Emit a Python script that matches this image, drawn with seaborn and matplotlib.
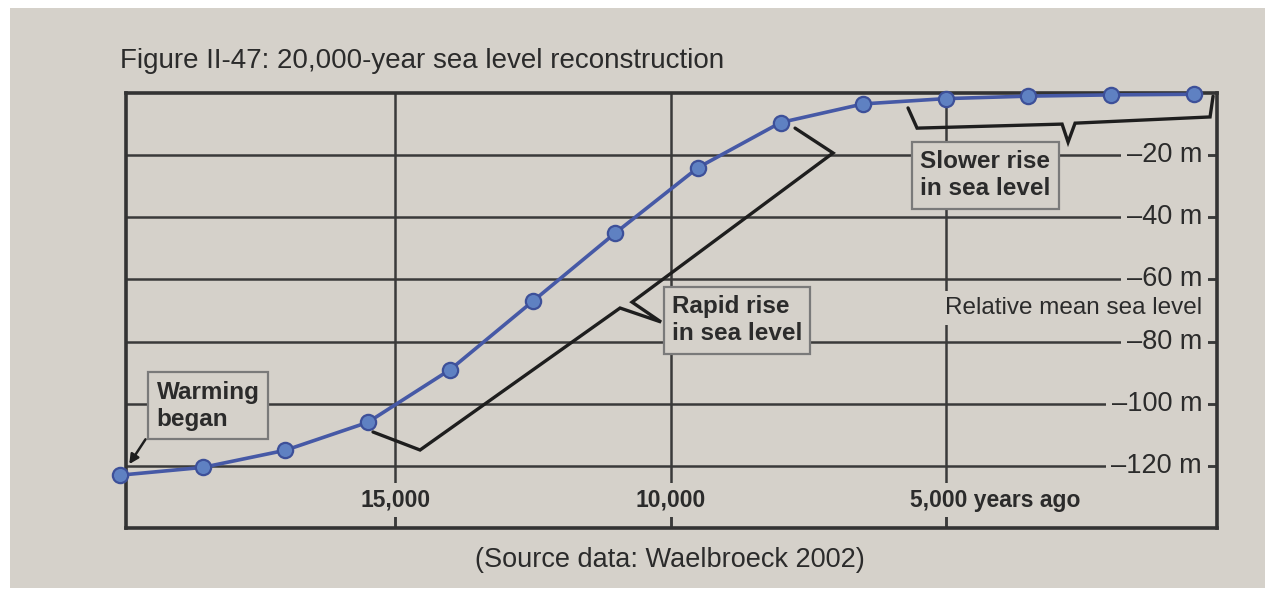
import pandas as pd
import seaborn as sns
import matplotlib.pyplot as plt
from matplotlib.patches import Rectangle

# Data (years before present, metres)
years_ago = [20000, 18500, 17000, 15500, 14000, 12500, 11000,
             9500, 8000, 6500, 5000, 3500, 2000, 500]
sea_level = [-123, -120.5, -115, -106, -89, -67, -45,
             -24, -9.5, -3.5, -1.8, -1.0, -0.6, -0.4]

x_ticks = [15000, 10000, 5000]
x_tick_labels = ["15,000", "10,000", "5,000 years ago"]
y_ticks = [-20, -40, -60, -80, -100, -120]
y_tick_labels = ["\u201320 m", "\u201340 m", "\u201360 m", "\u201380 m", "\u2013100 m", "\u2013120 m"]

df = pd.DataFrame({"years_ago": years_ago, "sea_level": sea_level})

page = "#d5d1ca"
ink = "#2b2b2b"

sns.set_theme(style="white")
plt.rcParams['font.family'] = ['Liberation Sans', 'DejaVu Sans']

fig = plt.figure(figsize=(12.72, 5.91), dpi=100, facecolor="white")
# the photographed page
fig.patches.append(Rectangle((10 / 1272, 3 / 591), 1255 / 1272, 580 / 591,
                             transform=fig.transFigure, facecolor=page,
                             edgecolor="none", zorder=-10))

ax = fig.add_axes([0.0991, 0.1066, 0.8577, 0.736])
ax.set_facecolor(page)

sns.lineplot(data=df, x="years_ago", y="sea_level", ax=ax, color="#4659a6",
             linewidth=2.6, marker="o", markersize=11,
             markerfacecolor="#5f81c2", markeredgecolor="#3d5099",
             markeredgewidth=1.6, zorder=3, clip_on=False)

ax.set_xlim(19890, 73)
ax.set_ylim(-140, 0)
ax.set_xlabel("")
ax.set_ylabel("")

# grid
for x in x_ticks:
    ax.axvline(x, color="#3a3a3a", lw=1.8, zorder=1)
for y in y_ticks:
    ax.axhline(y, color="#3a3a3a", lw=1.8, zorder=1)

ax.set_xticks(x_ticks)
ax.set_xticklabels([])
ax.set_yticks(y_ticks)
ax.set_yticklabels([])
ax.tick_params(axis="x", bottom=True, direction="in", length=10, width=1.8, color="#3a3a3a")
ax.tick_params(axis="y", left=False, right=True, direction="in", length=8, width=1.8, color="#3a3a3a")
for s in ax.spines.values():
    s.set_color("#333333")
    s.set_linewidth(2.6)

box = dict(facecolor=page, edgecolor="none", pad=4)

# tick labels drawn inside the frame
for y, lab in zip(y_ticks, y_tick_labels):
    ax.text(345, y, lab, ha="right", va="center", fontsize=19.5, color=ink,
            bbox=box, zorder=4)
for x, lab in zip(x_ticks, x_tick_labels):
    if x == 5000:
        ax.text(5650, -131, lab, ha="left", va="center", fontsize=16.5,
                fontweight="bold", color=ink, bbox=box, zorder=4)
    else:
        ax.text(x, -131, lab, ha="center", va="center", fontsize=16.5,
                fontweight="bold", color=ink, bbox=box, zorder=4)

ax.text(345, -69.2, "Relative mean sea level", ha="right", va="center",
        fontsize=17.5, color=ink, bbox=box, zorder=4)

# annotation boxes
ann_box = dict(facecolor=page, edgecolor="#7a7a7a", linewidth=1.6, pad=6)
for xt, yt, lab in [(18401, -100.7, "Warming\nbegan"),
                    (8792, -73.1, "Rapid rise\nin sea level"),
                    (4287, -26.4, "Slower rise\nin sea level")]:
    ax.text(xt, yt, lab, ha="center", va="center", multialignment="left",
            fontsize=17.5, fontweight="bold", color=ink, linespacing=1.25,
            bbox=ann_box, zorder=5)

# brackets
rapid_x = [15404, 14550, 10917, 10172, 10699, 7048, 7738]
rapid_y = [-109.1, -114.9, -69.2, -73.7, -67.3, -19.3, -11.3]
ax.plot(rapid_x, rapid_y, color="#1e1e1e", lw=2.4, zorder=2,
        solid_joinstyle="miter")
slow_x = [5686, 5522, 2888, 2779, 2652, 200, 145]
slow_y = [-4.8, -11.3, -10.0, -15.8, -9.7, -7.7, -1.0]
ax.plot(slow_x, slow_y, color="#1e1e1e", lw=2.4, zorder=2,
        solid_joinstyle="miter")

ax.annotate("", xy=(19860, -120.2), xytext=(19509, -110.7),
            arrowprops=dict(arrowstyle="-|>", color="#1e1e1e", lw=1.8,
                            mutation_scale=14), zorder=5)

fig.text(120 / 1272, 1 - 61 / 591, "Figure II-47: 20,000-year sea level reconstruction",
         ha="left", va="center", fontsize=20, color=ink)
fig.text(670 / 1272, 1 - 560 / 591, "(Source data: Waelbroeck 2002)",
         ha="center", va="center", fontsize=19.5, color=ink)

fig.savefig("out.png", dpi=100, facecolor=fig.get_facecolor())
